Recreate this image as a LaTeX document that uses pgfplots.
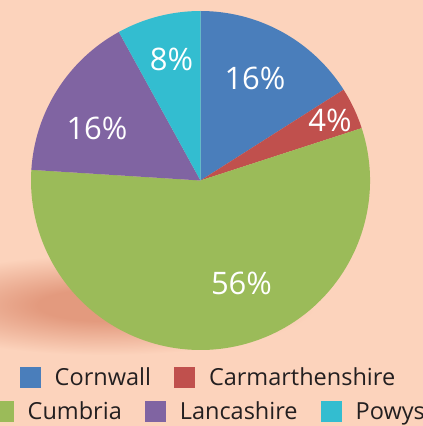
\documentclass[border=0pt]{standalone}
\usepackage{pgfplots}
\pgfplotsset{compat=1.18}
\usepackage{pgfplotstable}
\usepackage{fontspec}
\setmainfont{Open Sans}
\definecolor{bg}{HTML}{FCD3BC}
\definecolor{sh}{HTML}{E39A7E}
\definecolor{cCorn}{HTML}{4A7EBB}
\definecolor{cCarm}{HTML}{C0504D}
\definecolor{cCumb}{HTML}{9BBB59}
\definecolor{cLanc}{HTML}{8064A2}
\definecolor{cPowy}{HTML}{33BDD0}
\definecolor{txt}{HTML}{231F20}
\newcommand\labelfont{\fontsize{31}{36}\selectfont}
\newcommand\legfont{\fontsize{23.5}{28}\selectfont}
\pgfdeclareradialshading{shadowsh}{\pgfpoint{0bp}{0bp}}{color(0bp)=(sh); color(8bp)=(sh); color(25bp)=(bg); color(50bp)=(bg)}

% value in %, slice colour, label position (axis units)
\pgfplotstableread{
name value col lx ly
Cornwall 16 cCorn 255 347.5
Carmarthenshire 4 cCarm 330 306
Cumbria 56 cCumb 241.5 142.5
Lancashire 16 cLanc 97 297.5
Powys 8 cPowy 171.5 367
}\piedata

\pgfplotsset{sqlegend/.style={legend image code/.code={\fill[##1] (0pt,-10.5pt) rectangle (21pt,10.5pt);}}}

\begin{document}
\begin{tikzpicture}
\path[use as bounding box] (0pt,0pt) rectangle (423pt,426pt);
\clip (0pt,0pt) rectangle (423pt,426pt);
\fill[bg] (0pt,0pt) rectangle (423pt,426pt);
\begin{axis}[at={(0pt,0pt)}, anchor=south west, scale only axis,
  width=423pt, height=426pt, xmin=0, xmax=423, ymin=0, ymax=426,
  axis lines=none, clip=false,
  legend columns=-1,
  legend style={at={(0.4905,0.1138)}, anchor=center, draw=none, fill=none,
    inner sep=0pt, font=\legfont, text=txt, nodes={inner sep=0pt},
    /tikz/every odd column/.append style={column sep=14pt},
    /tikz/every even column/.append style={column sep=23pt}},
]
\shade[shading=shadowsh] (axis cs:105,121) ellipse [x radius=210pt, y radius=50pt];
\def\curang{90}
\pgfplotsforeachungrouped \i in {0,...,4}{%
  \pgfplotstablegetelem{\i}{value}\of\piedata \let\val\pgfplotsretval
  \pgfplotstablegetelem{\i}{col}\of\piedata \let\col\pgfplotsretval
  \pgfplotstablegetelem{\i}{lx}\of\piedata \let\lx\pgfplotsretval
  \pgfplotstablegetelem{\i}{ly}\of\piedata \let\ly\pgfplotsretval
  \pgfmathsetmacro\endang{\curang-3.6*\val}%
  \edef\tmp{\noexpand\fill[\col] (axis cs:200.5,245.5) -- ([shift={(\curang:169.5pt)}]axis cs:200.5,245.5) arc[start angle=\curang, end angle=\endang, radius=169.5pt] -- cycle;
    \noexpand\node[text=white, font=\noexpand\labelfont, inner sep=0pt] at (axis cs:\lx,\ly) {\val\noexpand\%};}%
  \tmp
  \global\let\curang\endang
}
\addlegendimage{sqlegend, fill=cCorn, draw=none}
\addlegendentry{Cornwall}
\addlegendimage{sqlegend, fill=cCarm, draw=none}
\addlegendentry{Carmarthenshire}
\end{axis}
\begin{axis}[at={(0pt,0pt)}, anchor=south west, scale only axis,
  width=423pt, height=426pt, xmin=0, xmax=423, ymin=0, ymax=426,
  axis lines=none, clip=false,
  legend columns=-1,
  legend style={at={(0.4936,0.034)}, anchor=center, draw=none, fill=none,
    inner sep=0pt, font=\legfont, text=txt, nodes={inner sep=0pt},
    /tikz/every odd column/.append style={column sep=14pt},
    /tikz/every even column/.append style={column sep=23pt}},
]
\addlegendimage{sqlegend, fill=cCumb, draw=none}
\addlegendentry{Cumbria}
\addlegendimage{sqlegend, fill=cLanc, draw=none}
\addlegendentry{Lancashire}
\addlegendimage{sqlegend, fill=cPowy, draw=none}
\addlegendentry{Powys}
\end{axis}
\end{tikzpicture}
\end{document}
